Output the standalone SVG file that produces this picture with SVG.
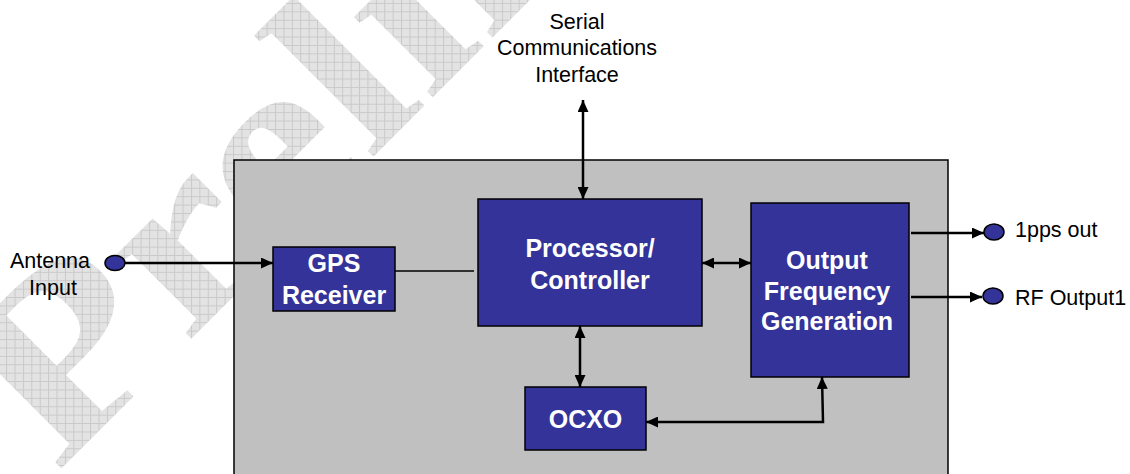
<svg xmlns="http://www.w3.org/2000/svg" width="1130" height="474" viewBox="0 0 1130 474">
<style>
.lbl{font-family:"Liberation Sans",Arial,sans-serif;font-size:21.5px;fill:#000}
.box{fill:#333399;stroke:#000;stroke-width:1.5}
.bt{font-family:"Liberation Sans",Arial,sans-serif;font-size:25px;font-weight:bold;fill:#fff;text-anchor:middle}
.wire{fill:none;stroke:#000;stroke-width:2.5}
.thin{fill:none;stroke:#000;stroke-width:1.3}
.port{fill:#333399;stroke:#000;stroke-width:1.5}
</style>
<defs>
<marker id="ah" markerUnits="userSpaceOnUse" markerWidth="12" markerHeight="11" refX="12" refY="5.5" orient="auto-start-reverse" viewBox="0 0 12 11">
<path d="M0,0 L12,5.5 L0,11 z" fill="#000"/>
</marker>
<pattern id="hatch" width="8.4" height="8.4" patternUnits="userSpaceOnUse" patternTransform="scale(0.82,1) rotate(45)">
<rect width="8.4" height="8.4" fill="#e3e3e3"/>
<path d="M0,0.5H8.4M0.5,0V8.4" stroke="#c9c9c9" stroke-width="1"/>
</pattern>
</defs>
<rect width="1130" height="474" fill="#fff"/>
<g id="watermark">
<text x="0" y="0" transform="translate(56.5,473.5) rotate(-45) scale(1.22,1)" font-family="'Liberation Serif','Times New Roman',serif" font-weight="bold" font-size="245" fill="url(#hatch)">Preliminary</text>
</g>
<g id="enclosure">
<rect x="234" y="160" width="714" height="330" fill="#c0c0c0" stroke="#000" stroke-width="1.5"/>
</g>
<g id="connectors">
<line class="wire" x1="125" y1="263" x2="273" y2="263" marker-end="url(#ah)"/>
<line class="thin" x1="395" y1="271" x2="474" y2="271"/>
<line class="wire" x1="583" y1="100" x2="583" y2="199" marker-start="url(#ah)" marker-end="url(#ah)"/>
<line class="wire" x1="702" y1="263" x2="751" y2="263" marker-start="url(#ah)" marker-end="url(#ah)"/>
<line class="wire" x1="580" y1="326" x2="580" y2="387" marker-start="url(#ah)" marker-end="url(#ah)"/>
<polyline class="wire" points="646,422 823,422 822,377" marker-start="url(#ah)" marker-end="url(#ah)"/>
<line class="wire" x1="911" y1="233" x2="984" y2="233" marker-end="url(#ah)"/>
<line class="wire" x1="911" y1="297" x2="982" y2="297" marker-end="url(#ah)"/>
</g>
<g id="antenna">
<ellipse class="port" cx="115" cy="263" rx="10" ry="7.5"/>
<text class="lbl" x="50" y="268" text-anchor="middle">Antenna</text>
<text class="lbl" x="53" y="295" text-anchor="middle">Input</text>
</g>
<g id="serial">
<text class="lbl" x="577" y="29" text-anchor="middle">Serial</text>
<text class="lbl" x="577" y="55" text-anchor="middle">Communications</text>
<text class="lbl" x="577" y="82" text-anchor="middle">Interface</text>
</g>
<g id="gps">
<rect class="box" x="273" y="247" width="122" height="64"/>
<text class="bt" x="334" y="272">GPS</text>
<text class="bt" x="334" y="304">Receiver</text>
</g>
<g id="processor">
<rect class="box" x="478" y="199" width="224" height="127"/>
<text class="bt" x="590" y="257">Processor/</text>
<text class="bt" x="590" y="289">Controller</text>
</g>
<g id="ofg">
<rect class="box" x="751" y="203" width="158" height="174"/>
<text class="bt" x="827" y="269">Output</text>
<text class="bt" x="827" y="300">Frequency</text>
<text class="bt" x="827" y="330">Generation</text>
</g>
<g id="ocxo">
<rect class="box" x="525" y="387" width="121" height="63"/>
<text class="bt" x="585.5" y="428">OCXO</text>
</g>
<g id="pps">
<ellipse class="port" cx="994" cy="232" rx="10" ry="8"/>
<text class="lbl" x="1015" y="237">1pps out</text>
</g>
<g id="rf">
<ellipse class="port" cx="993" cy="296" rx="10" ry="8"/>
<text class="lbl" x="1015" y="305">RF Output1</text>
</g>
</svg>
